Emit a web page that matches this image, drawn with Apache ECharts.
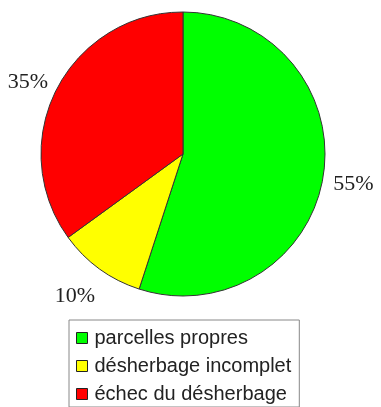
<!DOCTYPE html>
<html>
<head>
<meta charset="utf-8">
<script src="https://cdn.jsdelivr.net/npm/echarts@6/dist/echarts.min.js"></script>
<style>html,body{margin:0;padding:0;background:#fff}#c{width:381px;height:407px}</style>
</head>
<body>
<div id="c"></div>
<script>
const categories = ['parcelles propres', 'désherbage incomplet', 'échec du désherbage'];
const values = [55, 10, 35];
const colors = ['#00ff00', '#ffff00', '#ff0000'];
const labelOffsets = [[-5, 7], [8, 22], [6, -5]];

const chart = echarts.init(document.getElementById('c'), null, {renderer: 'canvas'});
chart.setOption({
  animation: false,
  legend: {
    orient: 'vertical',
    left: 69,
    top: 320,
    width: 240,
    height: 84,
    data: categories,
    icon: 'rect',
    itemWidth: 11,
    itemHeight: 11,
    itemGap: 8,
    padding: [8, 8, 3, 7],
    borderColor: '#888',
    borderWidth: 1,
    borderRadius: 0,
    itemStyle: {borderColor: '#222', borderWidth: 1},
    textStyle: {fontFamily: 'Liberation Sans', fontSize: 20, lineHeight: 19, color: '#222', padding: [0, 0, 0, 2]}
  },
  series: [{
    type: 'pie',
    center: [183, 154],
    radius: 142,
    startAngle: 90,
    clockwise: true,
    data: categories.map((n, i) => ({name: n, value: values[i], itemStyle: {color: colors[i]}})),
    itemStyle: {borderColor: '#333', borderWidth: 1},
    label: {
      show: true,
      position: 'outside',
      formatter: '{d}%',
      fontFamily: 'Liberation Serif',
      fontSize: 22,
      color: '#222',
      overflow: 'none',
      width: 60
    },
    labelLine: {show: false, length: 6, length2: 4},
    labelLayout: function (p) {
      const o = labelOffsets[p.dataIndex];
      return {dx: o[0], dy: o[1]};
    }
  }]
});
</script>
</body>
</html>
